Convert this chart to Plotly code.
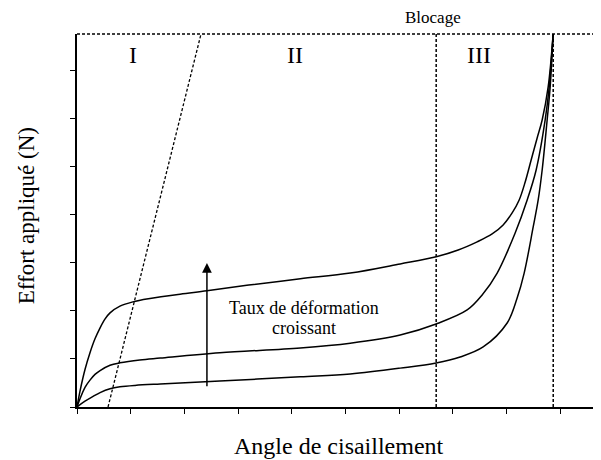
import plotly.graph_objects as go

# Data (axis units: x ticks = 1 unit, y ticks = 1 unit)
top_x = [0, 0.056, 0.149, 0.242, 0.335, 0.43, 0.52, 0.615, 0.80, 1.04, 1.36, 1.92, 2.42, 3.2, 4.16, 5.09, 6.02, 6.69, 7.10, 7.453, 7.732, 7.937, 8.105, 8.236, 8.348, 8.459, 8.571, 8.664, 8.776, 8.869]
top_y = [0, 0.33, 0.78, 1.13, 1.42, 1.65, 1.83, 1.96, 2.10, 2.19, 2.26, 2.35, 2.42, 2.54, 2.67, 2.79, 2.98, 3.13, 3.27, 3.44, 3.604, 3.792, 4.042, 4.3125, 4.688, 5.146, 5.604, 5.979, 6.667, 7.77]

mid_x = [0, 0.056, 0.149, 0.242, 0.335, 0.43, 0.615, 0.80, 1.17, 1.55, 2.66, 4.16, 5.09, 6.02, 6.689, 7.267, 7.546, 7.826, 8.161, 8.385, 8.552, 8.720, 8.795, 8.869]
mid_y = [0, 0.17, 0.41, 0.56, 0.68, 0.76, 0.87, 0.92, 0.98, 1.02, 1.13, 1.23, 1.33, 1.50, 1.73, 2.021, 2.333, 2.79, 3.625, 4.3125, 4.9375, 5.979, 6.667, 7.77]

low_x = [0, 0.149, 0.30, 0.43, 0.615, 0.80, 1.08, 1.55, 2.66, 4.16, 5.09, 6.02, 6.689, 7.136, 7.565, 8.012, 8.198, 8.329, 8.497, 8.590, 8.664, 8.757, 8.813, 8.869]
low_y = [0, 0.12, 0.22, 0.30, 0.38, 0.42, 0.45, 0.48, 0.54, 0.63, 0.69, 0.81, 0.917, 1.042, 1.25, 1.75, 2.27, 2.79, 3.75, 4.3125, 4.9375, 5.979, 6.667, 7.77]

slant_x = [0.578, 2.31]
slant_y = [0, 7.77]

zone_bounds = [6.69, 8.87]   # start of zone III, blocage
x_range = [0, 9.76]
y_range = [0, 7.77]

zone_labels = ["I", "II", "III"]
zone_label_x = [1.04, 4.06, 7.49]
zone_label_y = 7.33

arrow_x = 2.42
arrow_y = [0.40, 3.0]

FONT = "Liberation Serif, Times New Roman, serif"

fig = go.Figure()
for xs, ys in [(top_x, top_y), (mid_x, mid_y), (low_x, low_y)]:
    fig.add_trace(go.Scatter(x=xs, y=ys, mode="lines",
                             line=dict(color="black", width=1.5, shape="spline", smoothing=1.0),
                             showlegend=False, hoverinfo="skip"))

fig.add_trace(go.Scatter(x=slant_x, y=slant_y, mode="lines",
                         line=dict(color="black", width=1.3, dash="3px,2px"),
                         showlegend=False, hoverinfo="skip"))

shapes = [dict(type="line", xref="paper", yref="paper", x0=0, x1=1, y0=1, y1=1,
               line=dict(color="black", width=1.5, dash="3px,2px"))]
for b in zone_bounds:
    shapes.append(dict(type="line", xref="x", yref="paper", x0=b, x1=b, y0=0, y1=1,
                       line=dict(color="black", width=1.5, dash="3px,2px")))

annotations = []
for lab, lx in zip(zone_labels, zone_label_x):
    annotations.append(dict(x=lx, y=zone_label_y, xref="x", yref="y", text=lab,
                            showarrow=False, font=dict(family=FONT, size=24, color="black")))
annotations.append(dict(x=6.63, y=1.043, xref="x", yref="paper", text="Blocage",
                        showarrow=False, yanchor="middle",
                        font=dict(family=FONT, size=17, color="black")))
annotations.append(dict(x=4.23, y=2.07, xref="x", yref="y", text="Taux de déformation",
                        showarrow=False, font=dict(family=FONT, size=18, color="black")))
annotations.append(dict(x=4.23, y=1.65, xref="x", yref="y", text="croissant",
                        showarrow=False, font=dict(family=FONT, size=18, color="black")))
annotations.append(dict(x=arrow_x, y=arrow_y[1], ax=arrow_x, ay=arrow_y[0], xref="x", yref="y",
                        axref="x", ayref="y", text="", showarrow=True, arrowhead=2,
                        arrowsize=1.3, arrowwidth=1.5, arrowcolor="black"))
annotations.append(dict(x=0.5, y=-0.104, xref="paper", yref="paper", text="Angle de cisaillement",
                        showarrow=False, yanchor="middle",
                        font=dict(family=FONT, size=24, color="black")))
annotations.append(dict(x=-0.097, y=0.512, xref="paper", yref="paper", text="Effort appliqué (N)",
                        showarrow=False, textangle=-90, xanchor="center", yanchor="middle",
                        font=dict(family=FONT, size=23, color="black")))

# The page body has an 8px default margin, so the figure is offset by 8px.
fig.update_layout(
    width=593, height=452,
    margin=dict(l=69, r=0, t=26, b=53),
    paper_bgcolor="white", plot_bgcolor="white",
    shapes=shapes, annotations=annotations,
    xaxis=dict(range=x_range, showgrid=False, zeroline=False, showline=True,
               linecolor="black", linewidth=2, ticks="outside", ticklen=5, tickwidth=1,
               tickcolor="black", tick0=0, dtick=1, showticklabels=False, fixedrange=True),
    yaxis=dict(range=y_range, showgrid=False, zeroline=False, showline=True,
               linecolor="black", linewidth=2, ticks="outside", ticklen=5, tickwidth=1,
               tickcolor="black", tick0=0, dtick=1, showticklabels=False, fixedrange=True),
)

fig.write_html("out.html")
